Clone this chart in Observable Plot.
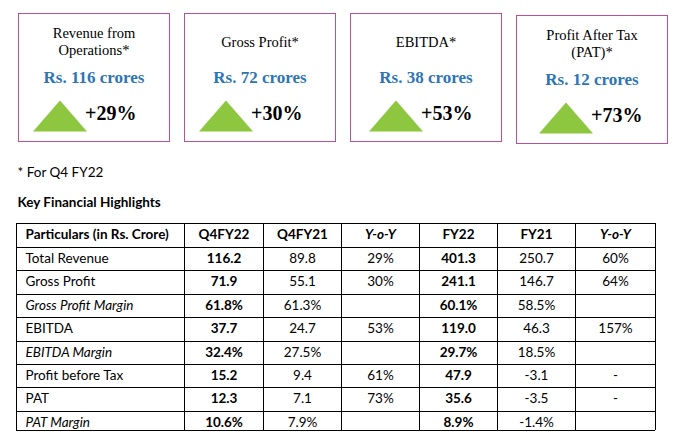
<!DOCTYPE html>
<html><head><meta charset="utf-8">
<script src="https://cdn.jsdelivr.net/npm/d3@7"></script>
<script src="https://cdn.jsdelivr.net/npm/@observablehq/plot@0.6"></script>
<style>body{margin:0;background:#fff} #chart{width:678px;height:446px} #chart svg{display:block}</style>
</head><body><div id="chart"></div>
<script>
// ---- data ----
const cardTitles = ["Revenue from\nOperations*", "Gross Profit*", "EBITDA*", "Profit After Tax\n(PAT)*"];
const cardValues = ["Rs. 116 crores", "Rs. 72 crores", "Rs. 38 crores", "Rs. 12 crores"];
const cardGrowth = ["+29%", "+30%", "+53%", "+73%"];
const footnote = "* For Q4 FY22";
const tableTitle = "Key Financial Highlights";
const columns = ["Particulars (in Rs. Crore)", "Q4FY22", "Q4FY21", "Y-o-Y", "FY22", "FY21", "Y-o-Y"];
const rowLabels = ["Total Revenue", "Gross Profit", "Gross Profit Margin", "EBITDA", "EBITDA Margin", "Profit before Tax", "PAT", "PAT Margin"];
const q4fy22 = ["116.2", "71.9", "61.8%", "37.7", "32.4%", "15.2", "12.3", "10.6%"];
const q4fy21 = ["89.8", "55.1", "61.3%", "24.7", "27.5%", "9.4", "7.1", "7.9%"];
const yoyQ   = ["29%", "30%", "", "53%", "", "61%", "73%", ""];
const fy22   = ["401.3", "241.1", "60.1%", "119.0", "29.7%", "47.9", "35.6", "8.9%"];
const fy21   = ["250.7", "146.7", "58.5%", "46.3", "18.5%", "-3.1", "-3.5", "-1.4%"];
const yoyFY  = ["60%", "64%", "", "157%", "", "-", "-", ""];

// ---- layout ----
const cardShiftY = [0, 0, 0, 2];
const triDx = [-34, -34, -30, -26];
const growthDx = [-9, -9, -5, -1];
const colEdges = [16, 184, 263, 341, 419, 497, 575, 655];
const rowEdges = [223, 247, 270, 294, 317, 341, 364, 387, 411, 430];
const serif = "'Liberation Serif', 'Times New Roman', serif";
const sans = "Lato, 'Open Sans', sans-serif";
const pink = "#b5529b", blue = "#2e75b6", green = "#8dc63f";

const cards = cardTitles.map((t, i) => ({i, title: t, value: cardValues[i], growth: cardGrowth[i], sy: cardShiftY[i]}));
const triangle = {draw(ctx) { ctx.moveTo(0, -15.5); ctx.lineTo(27, 15.5); ctx.lineTo(-27, 15.5); ctx.closePath(); }};

const cardsPlot = Plot.plot({
  width: 678, height: 150, margin: 0,
  style: {background: "white"},
  x: {type: "band", domain: d3.range(cards.length), range: [17, 669], paddingInner: 0.09, paddingOuter: 0, round: true, axis: null},
  y: {domain: [0, 150], range: [0, 150], axis: null},
  marks: [
    Plot.barY(cards, {x: "i", y1: d => 13.5 + d.sy, y2: d => 141.5 + d.sy, fill: "white", stroke: pink, strokeWidth: 1, shapeRendering: "crispEdges"}),
    Plot.text(cards, {x: "i", y: d => 41 + d.sy, text: "title", fontFamily: serif, fontSize: 14.5, lineHeight: 1.17, fill: "#000"}),
    Plot.text(cards, {x: "i", y: d => 76.6 + d.sy, text: "value", fontFamily: serif, fontSize: 17, fontWeight: "bold", fill: blue}),
    ...cards.flatMap((c, k) => [
      Plot.dot([c], {x: "i", y: d => 115.5 + d.sy, dx: triDx[k], symbol: triangle, fill: green, stroke: null}),
      Plot.text([c], {x: "i", y: d => 112.6 + d.sy, dx: growthDx[k], text: "growth", textAnchor: "start", fontFamily: serif, fontSize: 20, fontWeight: "bold", fill: "#000"})
    ])
  ]
});

// table cells
const bodyCols = [rowLabels, q4fy22, q4fy21, yoyQ, fy22, fy21, yoyFY];
const cells = [];
columns.forEach((h, c) => {
  cells.push({r: 0, c, text: h, weight: "bold", style: (h === "Y-o-Y") ? "italic" : "normal"});
  bodyCols[c].forEach((v, r) => {
    const label = rowLabels[r];
    cells.push({r: r + 1, c, text: v,
      weight: (c === 1 || c === 4) ? "bold" : "normal",
      style: (c === 0 && label.includes("Margin")) ? "italic" : "normal"});
  });
});
cells.forEach(d => { d.anchor = d.c === 0 ? "start" : "middle"; });
const groups = d3.groups(cells, d => `${d.anchor}|${d.weight}|${d.style}`);
const fs = 13.5;

const tablePlot = Plot.plot({
  width: 678, height: 296, margin: 0,
  style: {background: "white"},
  x: {type: "linear", domain: [0, 678], range: [0, 678], axis: null},
  y: {type: "linear", domain: [150, 446], range: [0, 296], axis: null},
  marks: [
    Plot.text([footnote], {x: 17, y: 176 - 0.32 * fs, text: d => d, textAnchor: "start", fontFamily: sans, fontSize: fs, fill: "#000"}),
    Plot.text([tableTitle], {x: 17, y: 206 - 0.32 * fs, text: d => d, textAnchor: "start", fontFamily: sans, fontSize: fs, fontWeight: "bold", fill: "#000"}),
    Plot.ruleY(rowEdges, {y: d => d, x1: colEdges[0], x2: colEdges[colEdges.length - 1], stroke: "#000", strokeWidth: 1}),
    Plot.ruleX(colEdges, {x: d => d, y1: rowEdges[0], y2: rowEdges[rowEdges.length - 1], stroke: "#000", strokeWidth: 1}),
    ...groups.map(([key, data]) => {
      const [anchor, weight, style] = key.split("|");
      return Plot.text(data, {
        x: d => d.c === 0 ? colEdges[0] + 9 : (colEdges[d.c] + colEdges[d.c + 1]) / 2,
        y: d => rowEdges[d.r] + 15 - 0.32 * fs,
        text: "text", textAnchor: anchor, fontWeight: weight, fontStyle: style,
        fontFamily: sans, fontSize: fs, fill: "#000"
      });
    })
  ]
});

const root = document.getElementById("chart");
root.append(cardsPlot, tablePlot);
</script></body></html>
